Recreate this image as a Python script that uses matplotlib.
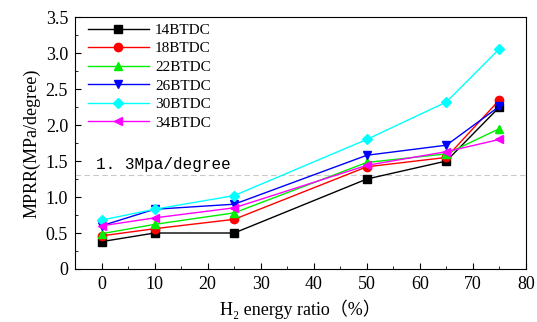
import matplotlib
matplotlib.use("Agg")
import matplotlib.pyplot as plt
from matplotlib.ticker import MultipleLocator, FuncFormatter

plt.rcParams['font.family'] = ['Liberation Serif', 'Noto Sans CJK SC']

h2_ratio = [0, 10, 25, 50, 65, 75]
mprr_14 = [0.38, 0.50, 0.50, 1.25, 1.50, 2.25]
mprr_18 = [0.46, 0.56, 0.69, 1.42, 1.55, 2.35]
mprr_22 = [0.49, 0.62, 0.78, 1.48, 1.60, 1.95]
mprr_26 = [0.60, 0.83, 0.90, 1.58, 1.72, 2.26]
mprr_30 = [0.68, 0.83, 1.02, 1.80, 2.32, 3.06]
mprr_34 = [0.60, 0.71, 0.85, 1.44, 1.63, 1.80]
limit_value = 1.3

series = [
    ("14BTDC", mprr_14, "black", "s"),
    ("18BTDC", mprr_18, "red", "o"),
    ("22BTDC", mprr_22, "#00ee00", "^"),
    ("26BTDC", mprr_26, "blue", "v"),
    ("30BTDC", mprr_30, "cyan", "D"),
    ("34BTDC", mprr_34, "magenta", "<"),
]

fig = plt.figure(figsize=(5.37, 3.22), dpi=100)
ax = fig.add_axes([0.1397, 0.1646, 0.8398, 0.7824])

for name, vals, col, mk in series:
    ms = 5 if mk == "D" else 6
    ax.plot(h2_ratio, vals, color=col, marker=mk, markersize=ms, lw=1.0, label=name)

ax.axhline(limit_value, color="#c8c8c8", lw=0.8, ls=(0, (5, 3)), zorder=0)
ax.text(-1, limit_value + 0.05, "1. 3Mpa/degree", family="Liberation Mono",
        fontsize=11.5, va="bottom", ha="left")

ax.set_xlim(-5, 80)
ax.set_ylim(0, 3.5)
ax.xaxis.set_major_locator(MultipleLocator(10))
ax.xaxis.set_minor_locator(MultipleLocator(5))
ax.yaxis.set_major_locator(MultipleLocator(0.5))
ax.yaxis.set_minor_locator(MultipleLocator(0.25))
ax.yaxis.set_major_formatter(FuncFormatter(lambda v, p: "0" if v == 0 else f"{v:.1f}"))
ax.tick_params(which="both", direction="in", top=False, right=False, labelsize=13, pad=5)
ax.tick_params(which="major", length=4)
ax.tick_params(which="minor", length=2)

ax.set_ylabel("MPRR(MPa/degree)", fontsize=13, labelpad=4)
ax.set_xlabel("H₂ energy ratio（%）", fontsize=13, labelpad=5)

ax.legend(loc="upper left", frameon=False, fontsize=11, handlelength=4.0,
          bbox_to_anchor=(0.015, 1.0), borderaxespad=0.0, labelspacing=0.32,
          handletextpad=0.4)

fig.savefig("out.png", dpi=100)
